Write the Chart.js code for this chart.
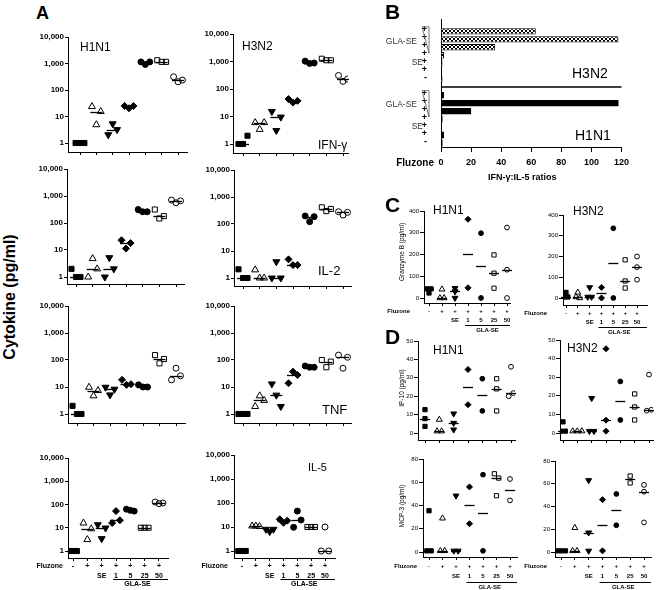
<!DOCTYPE html>
<html>
<head>
<meta charset="utf-8">
<script src="https://cdn.jsdelivr.net/npm/chart.js@4.4.1/dist/chart.umd.min.js"></script>
<style>
  body { margin: 0; background: #fff; }
  #fig { position: relative; width: 661px; height: 590px; overflow: hidden;
         font-family: "Liberation Sans", Arial, sans-serif; color: #000; }
  #fig canvas { position: absolute; }
  .t { position: absolute; white-space: nowrap; line-height: 1; transform: translateY(-50%); }
  .rot { position: absolute; white-space: nowrap; line-height: 1; transform: translate(-50%, -50%) rotate(-90deg); }
</style>
</head>
<body>
<div id="fig"></div>
<script>
const FONT = '"Liberation Sans", Arial, sans-serif';
Chart.defaults.font.family = FONT;
Chart.defaults.color = '#000';

// groups on the x axis: naive, Fluzone, +SE, +GLA-SE 1/5/25/50
const tickTop = ['-', '+', '+', '+', '+', '+', '+'];
const tickBottom = ['', '', 'SE', '1', '5', '25', '50'];

// panel A, cytokines (pg/ml), one inner list per group
const h1n1IFNg = [[1, 1, 1], [23.7, 4.9, 15.4], [2.05, 5.3, 3.2], [25, 20.5, 25], [1150, 920, 1150], [1330, 1150, 1150], [316, 205, 237]];
const h3n2IFNg = [[1, 1, 2], [6, 3.4, 6], [15.3, 3.1, 9.5], [43, 32, 37], [1030, 850, 880], [1260, 1110, 1110], [310, 190, 230]];
const h1n1IL2 = [[2, 1, 1], [1, 4.8, 2], [1, 5.2, 2], [23, 11.3, 18], [316, 260, 260], [316, 147, 180], [708, 560, 660]];
const h3n2IL2 = [[2.1, 1, 1], [2, 1, 1], [1, 4, 1], [4.9, 3, 3], [198, 122, 187], [415, 300, 360], [285, 215, 270]];
const h1n1TNF = [[2, 1, 1], [9.8, 4.7, 7.4], [9.8, 5.1, 8.3], [18.4, 12, 12.7], [12, 10, 10], [152, 75, 109], [18.4, 49.6, 26]];
const h3n2TNF = [[1, 1, 1], [1.9, 4.7, 3.2], [13, 5, 1.9], [13.8, 37, 28], [60, 54, 54], [100, 54, 87], [152, 49.6, 126]];
const h1n1IL5 = [[1, 1, 1], [16, 3.1, 9], [13.5, 3.4, 9.7], [16, 52, 21], [63, 56, 52], [10, 10, 10], [128, 108, 116]];
const h3n2IL5 = [[1, 1, 1], [11, 11, 10.5], [8, 6.4, 8], [21, 15, 18.4], [9.7, 46, 19.6], [10, 10, 10], [1, 10, 1]];
const logTicks = [1, 10, 100, 1000, 10000];

// panel B, IFN-g:IL-5 ratios, rows top to bottom (GLA-SE 50..1, SE, Fluzone, naive)
const ratioRowLabels = ['+', '+', '+', '+', '+', '+', '-'];
const h3n2Ratio = [63, 118, 36, 2, 1, 0.3, 1];
const h1n1Ratio = [2, 118, 20, 1, 0.3, 2, 1];
const ratioTicks = [0, 20, 40, 60, 80, 100, 120];

// panel C, granzyme B (pg/ml)
const h1n1GranzymeB = [[42, 23, 42], [0, 40, 0], [0, 30, 45], [362, 47], [298, 0], [198, 114, 45], [324, 130, 0]];
const h3n2GranzymeB = [[27, 5, 5], [27, 5, 0], [51, 5, 5], [51, 0], [336, 0], [184, 82, 48], [200, 149, 88]];
const granzymeTicks = [0, 100, 200, 300, 400];

// panel D, IP-10 and MCP-3 (pg/ml)
const h1n1IP10 = [[3.6, 12.7, 7.8], [1, 7.3, 1], [10.5, 5.4, 1.8], [34.5, 15.4], [29.5, 12], [29.5, 24, 12], [36, 20, 21.7]];
const h3n2IP10 = [[1, 6, 1], [1, 1, 1], [1, 18.7, 1], [45.3, 6.9, 1], [27.7, 7], [21, 14, 7], [12, 31.4, 12.5]];
const ip10Ticks = [0, 10, 20, 30, 40, 50];
const h1n1MCP3 = [[1, 35.5, 1], [1, 29, 1], [1, 48.4, 1], [56, 24.3], [66.5, 1], [67.3, 48.4, 63.6], [62.8, 44.4]];
const h3n2MCP3 = [[1, 1, 1], [1, 21.3, 1], [63, 17, 1], [46, 1], [51, 23.5], [66.8, 60.7], [59, 26, 53]];
const mcp3Ticks = [0, 20, 40, 60, 80];

const markers = [
  { style: 'rect', fill: true },
  { style: 'triangle', fill: false },
  { style: 'triangle', fill: true, rot: 180 },
  { style: 'rectRot', fill: true },
  { style: 'circle', fill: true },
  { style: 'rect', fill: false },
  { style: 'circle', fill: false }
];
const bigSize = { rect: 3.6, triangle: 4, rectRot: 3.5, circle: 3 };
const smallSize = { rect: 3, triangle: 3.4, rectRot: 3, circle: 2.4 };

const fig = document.getElementById('fig');

function addCanvas(x, y, w, h) {
  const c = document.createElement('canvas');
  c.width = w; c.height = h;
  c.style.left = x + 'px'; c.style.top = y + 'px';
  c.style.width = w + 'px'; c.style.height = h + 'px';
  fig.appendChild(c);
  return c;
}

function addText(txt, x, y, css, rotated) {
  const d = document.createElement('div');
  d.className = rotated ? 'rot' : 't';
  d.textContent = txt;
  d.style.cssText = 'left:' + x + 'px;top:' + y + 'px;' + css;
  fig.appendChild(d);
}

function median(a) {
  const s = a.slice().sort((p, q) => p - q), n = s.length;
  return n % 2 ? s[(n - 1) / 2] : (s[n / 2 - 1] + s[n / 2]) / 2;
}

// side-by-side offsets for points whose values overlap
function spread(vals, tol, step) {
  const off = vals.map(() => 0), done = vals.map(() => false);
  vals.forEach((v, i) => {
    if (done[i]) return;
    const grp = vals.map((w, j) => j).filter(j => !done[j] && Math.abs(vals[j] - v) <= tol);
    grp.forEach((j, k) => { done[j] = true; off[j] = (k - (grp.length - 1) / 2) * step; });
  });
  return off;
}

function fmt(v) {
  return String(v).replace(/\B(?=(\d{3})+(?!\d))/g, ',');
}

const medianPlugin = {
  id: 'median',
  afterDatasetsDraw(chart, args, o) {
    const ctx = chart.ctx, xs = chart.scales.x, ys = chart.scales.y;
    ctx.save();
    ctx.strokeStyle = '#000';
    ctx.lineWidth = o.width;
    o.groups.forEach((vals, g) => {
      const px = xs.getPixelForValue(g), py = Math.round(ys.getPixelForValue(median(vals))) + 0.5;
      ctx.beginPath();
      ctx.moveTo(px - o.half, py);
      ctx.lineTo(px + o.half, py);
      ctx.stroke();
    });
    ctx.restore();
  }
};

// "Fluzone", the GLA-SE underline and label below the bottom charts
const groupLabelPlugin = {
  id: 'groupLabels',
  afterDraw(chart, args, o) {
    if (!o.show) return;
    const ctx = chart.ctx, area = chart.chartArea, xs = chart.scales.x;
    ctx.save();
    ctx.fillStyle = '#000';
    ctx.strokeStyle = '#000';
    ctx.font = 'bold ' + o.size + 'px ' + FONT;
    ctx.textBaseline = 'middle';
    ctx.textAlign = 'right';
    ctx.fillText('Fluzone', area.left - o.fluGap, area.bottom + o.row1);
    const x3 = xs.getPixelForValue(3), x6 = xs.getPixelForValue(6);
    ctx.lineWidth = 1;
    ctx.beginPath();
    ctx.moveTo(x3 - 3, Math.round(area.bottom + o.ul) + 0.5);
    ctx.lineTo(area.right, Math.round(area.bottom + o.ul) + 0.5);
    ctx.stroke();
    ctx.textAlign = 'center';
    ctx.fillText('GLA-SE', (x3 + x6) / 2, area.bottom + o.gla);
    ctx.restore();
  }
};

function scatterPanel(p) {
  const padT = 8, padR = 8;
  const sp = (p.x6 - p.x0) / 6;
  const xmin = -(p.x0 - p.l) / sp, xmax = 6 + (p.r - p.x6) / sp;
  let ymin, ymax;
  if (p.log) {
    const dec = (p.one - p.t) / 4;
    ymin = Math.pow(10, -(p.b - p.one) / dec);
    ymax = 10000;
  } else {
    ymax = p.yticks[p.yticks.length - 1];
    ymin = -(p.b - p.zero) / ((p.zero - p.t) / ymax);
  }
  const size = p.log ? bigSize : smallSize;
  const canvas = addCanvas(p.l - p.padL, p.t - padT, p.r - p.l + p.padL + padR, p.b - p.t + padT + p.padB);
  const datasets = p.values.map((vals, g) => {
    const off = p.log ? vals.map((v, k) => (k - (vals.length - 1) / 2) * 0.27) : spread(vals, p.tol, 0.32);
    const m = markers[g];
    return {
      data: vals.map((v, k) => ({ x: g + off[k], y: v })),
      showLine: false,
      pointStyle: m.style,
      pointRotation: m.rot || 0,
      pointRadius: size[m.style],
      pointBorderWidth: 1,
      pointBorderColor: '#000',
      pointBackgroundColor: m.fill ? '#000' : 'rgba(0,0,0,0)'
    };
  });
  const lab = p.labels || {};
  new Chart(canvas, {
    type: 'scatter',
    data: { datasets },
    options: {
      responsive: false,
      animation: false,
      events: [],
      devicePixelRatio: 1,
      layout: { padding: { top: padT, right: padR, left: 0, bottom: 0 } },
      plugins: {
        legend: { display: false },
        tooltip: { enabled: false },
        median: { groups: p.values, half: p.log ? 6 : 5, width: 1.3 },
        groupLabels: { show: !!p.labels, size: lab.size, fluGap: lab.fluGap, row1: lab.row1, ul: lab.ul, gla: lab.gla }
      },
      scales: {
        x: {
          type: 'linear', min: xmin, max: xmax,
          afterBuildTicks: s => { s.ticks = tickTop.map((t, i) => ({ value: i })); },
          afterFit: s => { s.height = p.padB; },
          grid: { drawOnChartArea: false, tickLength: 3, color: '#000' },
          border: { color: '#000', width: 1 },
          ticks: {
            display: !!p.labels, autoSkip: false, maxRotation: 0, padding: lab.pad || 0,
            font: { size: lab.size || 7, weight: 'bold', lineHeight: lab.lh || 1.4 },
            callback: (v, i) => tickBottom[i] ? [tickTop[i], tickBottom[i]] : tickTop[i]
          }
        },
        y: {
          type: p.log ? 'logarithmic' : 'linear', min: ymin, max: ymax,
          afterBuildTicks: s => { s.ticks = (p.log ? logTicks : p.yticks).map(v => ({ value: v })); },
          afterFit: s => { s.width = p.padL; },
          grid: { drawOnChartArea: false, tickLength: p.log ? 3 : 4, color: '#000' },
          border: { color: '#000', width: 1 },
          ticks: {
            padding: 1,
            font: p.log ? { size: 8, weight: 'bold' } : { size: 6 },
            callback: v => fmt(v)
          }
        }
      }
    },
    plugins: [medianPlugin, groupLabelPlugin]
  });
}

// ---- panel A ----
const labA = { size: 7, lh: 10 / 7, pad: 0, row1: 8, ul: 21, gla: 26.5 };
scatterPanel({ values: h1n1IFNg, log: true, l: 68, t: 37, r: 187, b: 152, one: 143, x0: 80, x6: 178, padL: 36, padB: 6 });
scatterPanel({ values: h3n2IFNg, log: true, l: 233, t: 34, r: 348, b: 153, one: 144, x0: 243, x6: 343, padL: 36, padB: 6 });
scatterPanel({ values: h1n1IL2, log: true, l: 67, t: 169, r: 184, b: 284, one: 277, x0: 76, x6: 176, padL: 36, padB: 6 });
scatterPanel({ values: h3n2IL2, log: true, l: 234, t: 170, r: 351, b: 286, one: 278, x0: 243, x6: 343, padL: 36, padB: 6 });
scatterPanel({ values: h1n1TNF, log: true, l: 68, t: 306, r: 185, b: 423, one: 414, x0: 77, x6: 176, padL: 36, padB: 6 });
scatterPanel({ values: h3n2TNF, log: true, l: 234, t: 306, r: 351, b: 423, one: 414, x0: 243, x6: 343, padL: 36, padB: 6 });
scatterPanel({ values: h1n1IL5, log: true, l: 68, t: 458, r: 168, b: 558, one: 551, x0: 73, x6: 159, padL: 36, padB: 31,
  labels: Object.assign({ fluGap: 5 }, labA) });
scatterPanel({ values: h3n2IL5, log: true, l: 234, t: 455, r: 335, b: 558, one: 551, x0: 242, x6: 325, padL: 36, padB: 31,
  labels: Object.assign({ fluGap: 6 }, labA) });

// ---- panel C ----
const labC = { size: 6, lh: 1.5, pad: 1, row1: 8.5, ul: 21.5, gla: 27.5 };
scatterPanel({ values: h1n1GranzymeB, yticks: granzymeTicks, tol: 12, l: 424, t: 211, r: 510, b: 303, zero: 298, x0: 429, x6: 507, padL: 44, padB: 32,
  labels: Object.assign({ fluGap: 14 }, labC) });
scatterPanel({ values: h3n2GranzymeB, yticks: granzymeTicks, tol: 12, l: 563, t: 215, r: 647, b: 305, zero: 298, x0: 566, x6: 637, padL: 44, padB: 32,
  labels: Object.assign({ fluGap: 16 }, labC) });

// ---- panel D ----
const labD = { size: 6, lh: 10 / 6, pad: 1.5, row1: 9.5, ul: 24.5, gla: 30 };
scatterPanel({ values: h1n1IP10, yticks: ip10Ticks, tol: 2, l: 418, t: 341, r: 515, b: 440, zero: 433, x0: 425, x6: 511, padL: 16, padB: 6 });
scatterPanel({ values: h3n2IP10, yticks: ip10Ticks, tol: 2, l: 560, t: 340, r: 653, b: 440, zero: 433, x0: 563, x6: 649, padL: 16, padB: 6 });
scatterPanel({ values: h1n1MCP3, yticks: mcp3Ticks, tol: 4, l: 423, t: 459, r: 517, b: 557, zero: 552, x0: 429, x6: 510, padL: 36, padB: 33,
  labels: Object.assign({ fluGap: 6 }, labD) });
scatterPanel({ values: h3n2MCP3, yticks: mcp3Ticks, tol: 4, l: 555, t: 461, r: 651, b: 557, zero: 552, x0: 561, x6: 644, padL: 36, padB: 33,
  labels: Object.assign({ fluGap: 8 }, labD) });

// ---- panel B ----
(function ratioPanel() {
  const l = 441, t = 16, r = 622, b = 147, padL = 62, padT = 8, padR = 12, padB = 40;
  const canvas = addCanvas(l - padL, t - padT, r - l + padL + padR, b - t + padT + padB);
  const ctx = canvas.getContext('2d');
  const tile = document.createElement('canvas');
  tile.width = 4; tile.height = 4;
  const tg = tile.getContext('2d');
  tg.fillStyle = '#fff'; tg.fillRect(0, 0, 4, 4);
  tg.fillStyle = '#000'; tg.fillRect(0, 0, 2, 2); tg.fillRect(2, 2, 2, 2);
  const checks = ctx.createPattern(tile, 'repeat');

  const rowKeys = ['top'].concat(ratioRowLabels.map((s, i) => 'h3n2-' + i), ['mid'], ratioRowLabels.map((s, i) => 'h1n1-' + i));
  const rowText = [''].concat(ratioRowLabels, [''], ratioRowLabels);

  const extras = {
    id: 'ratioExtras',
    afterDraw(chart) {
      const c = chart.ctx, area = chart.chartArea, ys = chart.scales.y, xs = chart.scales.x;
      c.save();
      c.strokeStyle = '#000';
      c.lineWidth = 1.5;
      const ym = Math.round(ys.getPixelForValue(8));
      c.beginPath(); c.moveTo(area.left, ym); c.lineTo(area.right, ym); c.stroke();
      c.strokeStyle = '#555';
      c.lineWidth = 0.8;
      [1, 9].forEach(first => {
        const y0 = ys.getPixelForValue(first) - 4.5, y1 = ys.getPixelForValue(first + 3) - 2;
        const xa = area.left - 19, xb = area.left - 12;
        c.beginPath(); c.moveTo(xa, y0); c.lineTo(xb, y0); c.lineTo(xb, y1); c.closePath(); c.stroke();
      });
      c.fillStyle = '#333';
      c.font = '8.5px ' + FONT;
      c.textAlign = 'right';
      c.textBaseline = 'middle';
      [2, 10].forEach(row => c.fillText('GLA-SE', area.left - 24, ys.getPixelForValue(row) + 2));
      [5, 13].forEach(row => c.fillText('SE', area.left - 18, ys.getPixelForValue(row) - 0.5));
      c.fillStyle = '#000';
      c.font = 'bold 10px ' + FONT;
      c.fillText('Fluzone', area.left - 7, area.bottom + 16);
      c.textAlign = 'center';
      c.font = 'bold 9px ' + FONT;
      c.fillText('IFN-\u03b3:IL-5 ratios', xs.getPixelForValue(54), area.bottom + 31);
      c.restore();
    }
  };

  new Chart(canvas, {
    type: 'bar',
    data: {
      labels: rowKeys,
      datasets: [
        { data: h3n2Ratio.map((v, i) => ({ x: v, y: 'h3n2-' + i })), backgroundColor: checks, borderColor: '#000', borderWidth: 1, grouped: false },
        { data: h1n1Ratio.map((v, i) => ({ x: v, y: 'h1n1-' + i })), backgroundColor: '#000', borderColor: '#000', borderWidth: 0, grouped: false }
      ]
    },
    options: {
      indexAxis: 'y',
      responsive: false,
      animation: false,
      events: [],
      devicePixelRatio: 1,
      layout: { padding: { top: padT, right: padR, left: 0, bottom: 0 } },
      datasets: { bar: { categoryPercentage: 1, barPercentage: 0.8 } },
      plugins: { legend: { display: false }, tooltip: { enabled: false } },
      scales: {
        x: {
          type: 'linear', min: 0, max: 120,
          afterBuildTicks: s => { s.ticks = ratioTicks.map(v => ({ value: v })); },
          afterFit: s => { s.height = padB; },
          grid: { drawOnChartArea: false, tickLength: 5, color: '#000' },
          border: { color: '#000', width: 1 },
          ticks: { padding: 5, font: { size: 9, weight: 'bold' } }
        },
        y: {
          type: 'category',
          afterFit: s => { s.width = padL; },
          grid: { display: false },
          border: { display: true, color: '#000', width: 1 },
          ticks: { padding: 6, autoSkip: false, labelOffset: -1.5, font: { size: 9, weight: 'bold' },
                   callback: (v, i) => rowText[i] }
        }
      }
    },
    plugins: [extras]
  });
})();

// ---- texts ----
addText('A', 36, 13, 'font-size:18px;font-weight:bold;');
addText('B', 385, 11, 'font-size:21px;font-weight:bold;');
addText('C', 385, 204, 'font-size:21px;font-weight:bold;');
addText('D', 385, 336, 'font-size:21px;font-weight:bold;');
addText('Cytokine (pg/ml)', 10, 297, 'font-size:16px;font-weight:bold;', true);
addText('Granzyme B (pg/ml)', 402, 252, 'font-size:6.5px;', true);
addText('IP-10 (pg/ml)', 402, 388, 'font-size:6.5px;', true);
addText('MCP-3 (pg/ml)', 402, 506, 'font-size:6.5px;', true);

addText('H1N1', 80, 47, 'font-size:12px;');
addText('H3N2', 242, 46, 'font-size:12px;');
addText('IFN-\u03b3', 318, 145, 'font-size:12px;');
addText('IL-2', 318, 270, 'font-size:13px;');
addText('TNF', 322, 409, 'font-size:13px;');
addText('IL-5', 308, 467, 'font-size:11px;');
addText('H3N2', 572, 73, 'font-size:14px;');
addText('H1N1', 575, 135, 'font-size:14px;');
addText('H1N1', 433, 210, 'font-size:12px;');
addText('H3N2', 573, 211, 'font-size:12px;');
addText('H1N1', 433, 350, 'font-size:12px;');
addText('H3N2', 567, 348, 'font-size:12px;');
</script>
</body>
</html>
